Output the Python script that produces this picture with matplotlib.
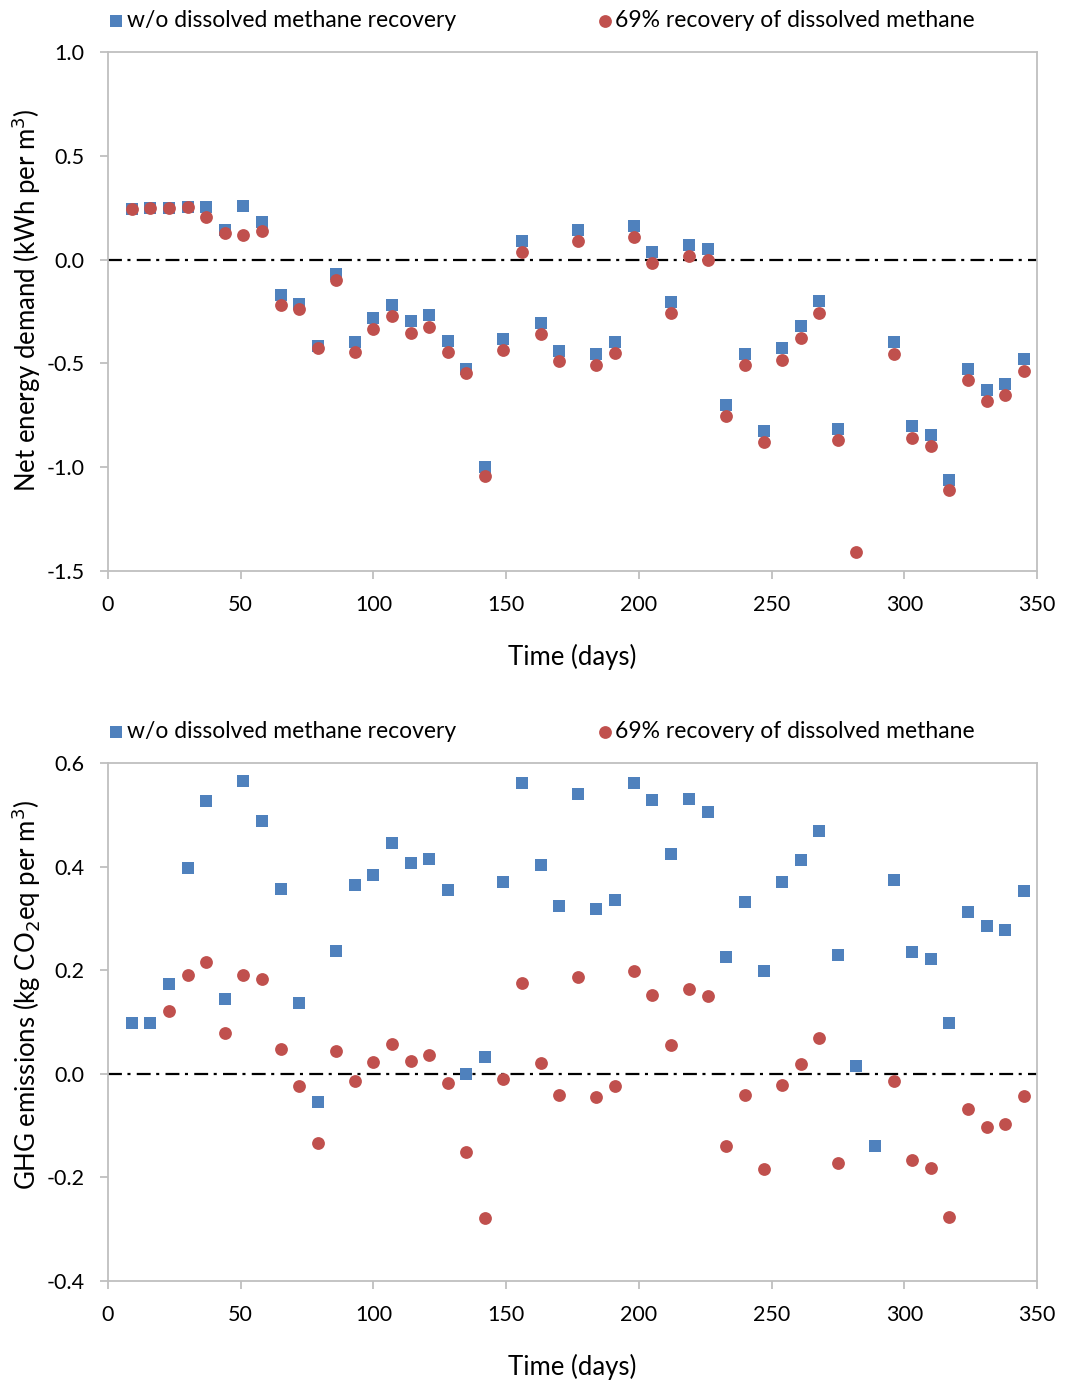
import matplotlib
matplotlib.use("Agg")
import matplotlib.pyplot as plt
import numpy as np

plt.rcParams['font.family'] = ['Lato', 'DejaVu Sans']
plt.rcParams['lines.scale_dashes'] = False

nan = np.nan

# sampling days (weekly)
days = [9, 16, 23, 30, 37, 44, 51, 58, 65, 72, 79, 86, 93, 100, 107, 114, 121,
        128, 135, 142, 149, 156, 163, 170, 177, 184, 191, 198, 205, 212, 219,
        226, 233, 240, 247, 254, 261, 268, 275, 282, 289, 296, 303, 310, 317,
        324, 331, 338, 345]

# net energy demand (kWh per m3)
energy_no_rec = [0.243, 0.25, 0.25, 0.253, 0.252, 0.141, 0.257, 0.18, -0.172,
                 -0.215, -0.418, -0.071, -0.395, -0.283, -0.22, -0.297, -0.269,
                 -0.394, -0.525, -1.0, -0.38, 0.09, -0.305, -0.44, 0.143,
                 -0.455, -0.397, 0.162, 0.037, -0.204, 0.07, 0.05, -0.70,
                 -0.455, -0.826, -0.426, -0.32, -0.2, -0.816, nan, nan, -0.397,
                 -0.80, -0.843, -1.06, -0.527, -0.628, -0.60, -0.48]
energy_rec = [0.244, 0.25, 0.25, 0.253, 0.207, 0.13, 0.117, 0.136, -0.217,
              -0.24, -0.427, -0.1, -0.447, -0.334, -0.273, -0.354, -0.323,
              -0.447, -0.545, -1.04, -0.435, 0.037, -0.358, -0.49, 0.09,
              -0.507, -0.45, 0.108, -0.016, -0.257, 0.017, 0.0, -0.753,
              -0.508, -0.878, -0.483, -0.377, -0.257, -0.87, -1.41, nan,
              -0.455, -0.858, -0.897, -1.11, -0.58, -0.68, -0.652, -0.537]

# GHG emissions (kg CO2eq per m3)
ghg_no_rec = [0.098, 0.098, 0.173, 0.397, 0.526, 0.144, 0.565, 0.489, 0.357,
              0.136, -0.055, 0.238, 0.364, 0.383, 0.445, 0.406, 0.414, 0.355,
              0.0, 0.032, 0.37, 0.561, 0.403, 0.323, 0.54, 0.318, 0.335, 0.561,
              0.528, 0.424, 0.53, 0.505, 0.225, 0.331, 0.198, 0.37, 0.412,
              0.468, 0.229, 0.0145, -0.14, 0.374, 0.235, 0.221, 0.099, 0.312,
              0.285, 0.277, 0.352]
ghg_rec = [nan, nan, 0.121, 0.191, 0.215, 0.079, 0.19, 0.184, 0.047, -0.024,
           -0.134, 0.044, -0.014, 0.023, 0.057, 0.025, 0.036, -0.017, -0.15,
           -0.279, -0.01, 0.176, 0.021, -0.04, 0.186, -0.045, -0.024, 0.198,
           0.153, 0.055, 0.163, 0.15, -0.139, -0.04, -0.183, -0.022, 0.019,
           0.069, -0.173, nan, nan, -0.014, -0.166, -0.182, -0.276, -0.067,
           -0.103, -0.096, -0.043]

labels = ["w/o dissolved methane recovery", "69% recovery of dissolved methane"]
blue = "#4F81BD"
red = "#C0504D"
grey = "#BFBFBF"
fs = 15.5

W, H = 1065, 1384
fig = plt.figure(figsize=(W / 100, H / 100), dpi=100)
ax1 = fig.add_axes([0.1014, 0.5874, 0.8723, 0.375])
ax2 = fig.add_axes([0.1014, 0.0744, 0.8723, 0.3743])


def style(ax, ylim, yticks, ylabel, ylab_y):
    ax.axhline(0, color='black', lw=1.6, dashes=(10, 4, 2.2, 4.5), zorder=1)
    ax.set_xlim(0, 350)
    ax.set_xticks(np.arange(0, 351, 50))
    ax.set_ylim(*ylim)
    ax.set_yticks(yticks)
    ax.yaxis.set_major_formatter(matplotlib.ticker.FormatStrFormatter('%.1f'))
    for s in ax.spines.values():
        s.set_color(grey)
        s.set_linewidth(1.3)
    ax.tick_params(direction='out', length=6, width=1.3, color=grey,
                   labelsize=fs, pad=11)
    ax.set_xlabel("Time (days)", fontsize=18.5, labelpad=21)
    # y label placed in figure pixels so it is not clipped
    fig.text(26 / W, 1 - ylab_y / H, ylabel, rotation=90, fontsize=18.5,
             ha='center', va='center')
    ax.legend(loc='lower left', bbox_to_anchor=(-0.018, 1.01), ncol=2,
              frameon=False, fontsize=16.5, handletextpad=0.05,
              columnspacing=6.1, handlelength=0.8, borderaxespad=0.3)


for ax, a, b in [(ax1, energy_no_rec, energy_rec), (ax2, ghg_no_rec, ghg_rec)]:
    ax.scatter(days, a, marker='s', s=85, color=blue, linewidths=0,
               label=labels[0], zorder=3)
    ax.scatter(days, b, marker='o', s=85, color=red, linewidths=0,
               label=labels[1], zorder=4)

style(ax1, (-1.5, 1.0), np.arange(-1.5, 1.01, 0.5),
      "Net energy demand (kWh per m$^3$)", 300)
style(ax2, (-0.4, 0.6), np.arange(-0.4, 0.61, 0.2),
      "GHG emissions (kg CO$_2$eq per m$^3$)", 995)

fig.savefig("out.png", dpi=100)
